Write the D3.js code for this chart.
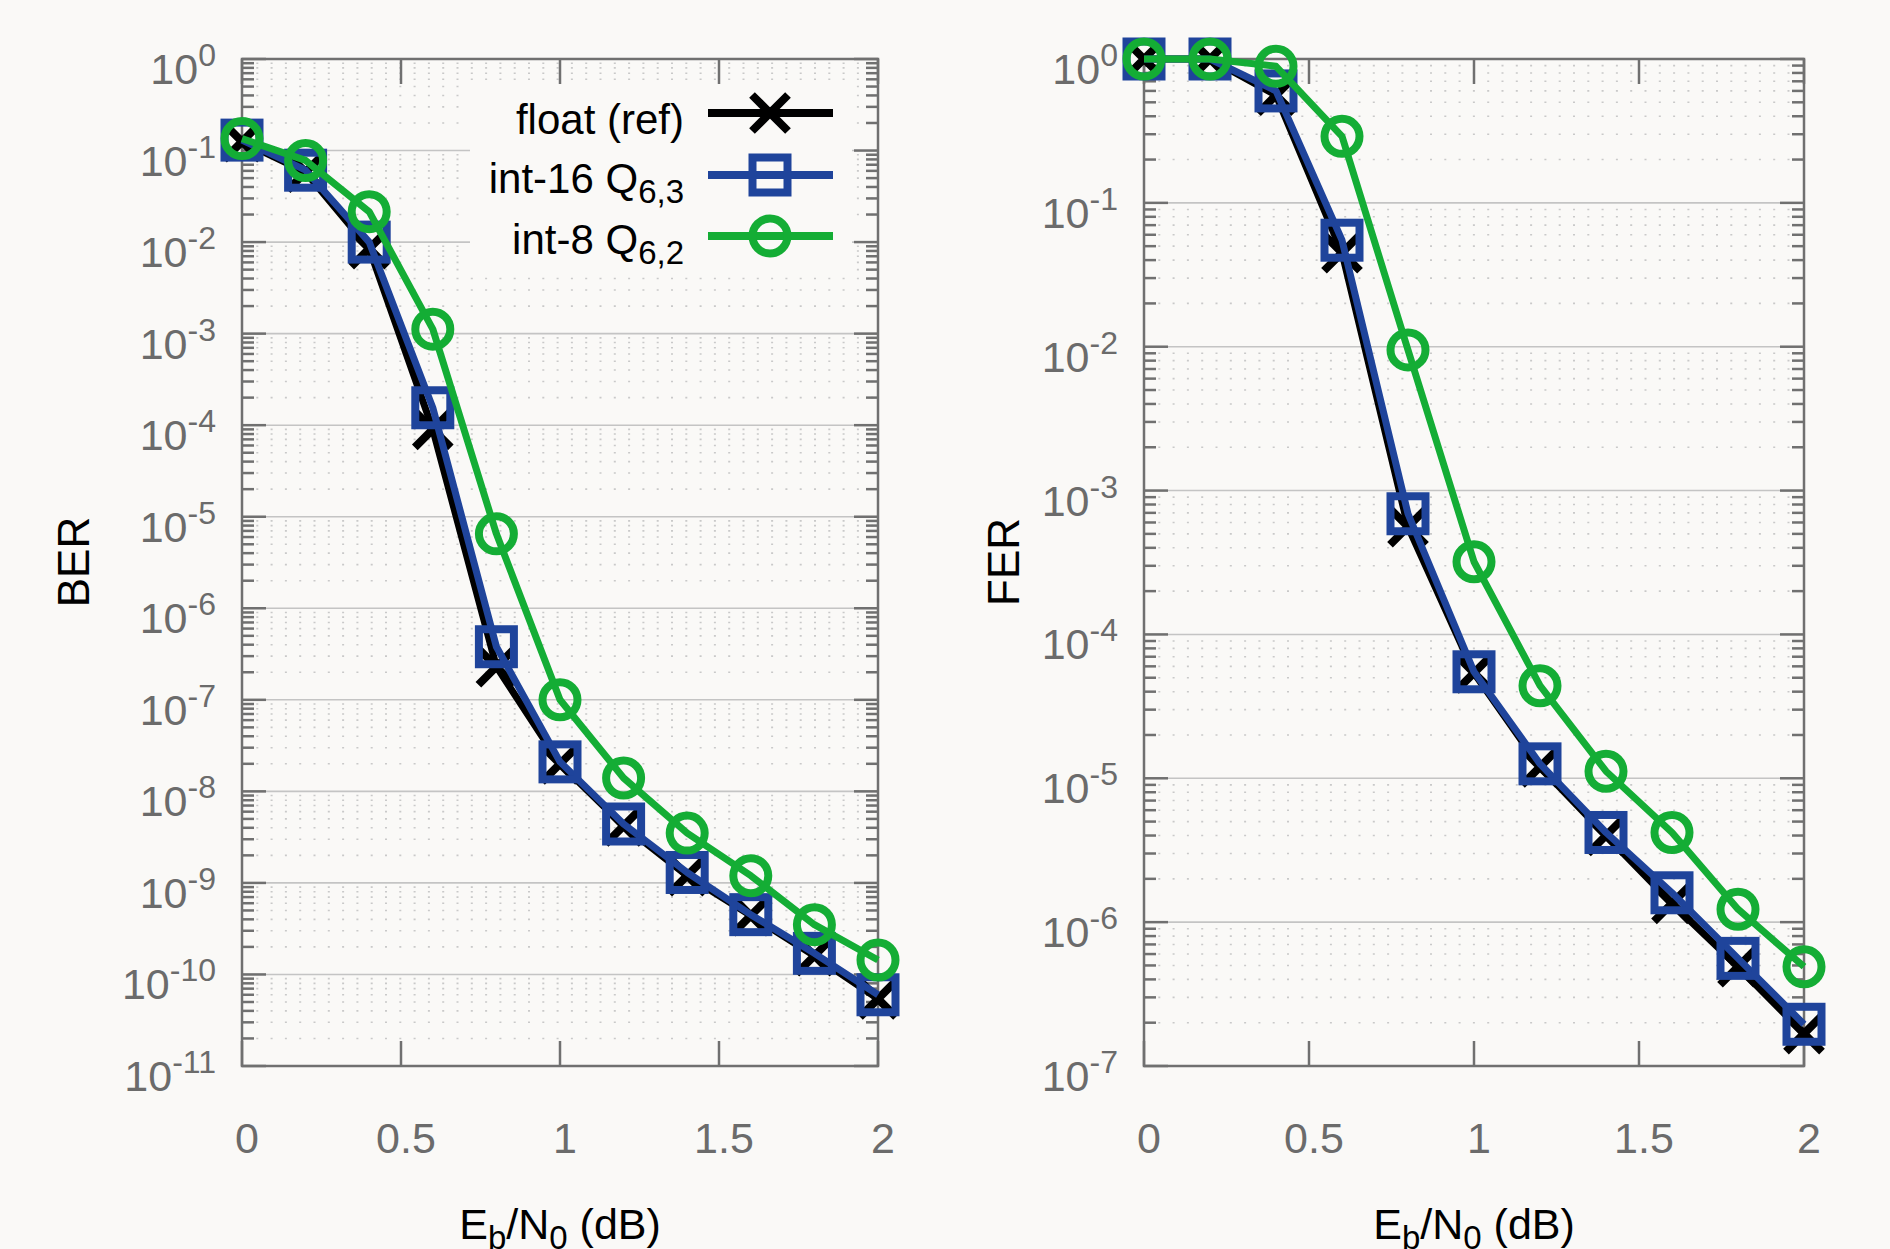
<!DOCTYPE html>
<html>
<head>
<meta charset="utf-8">
<script src="https://cdn.jsdelivr.net/npm/d3@7"></script>
<style>
  html, body { margin: 0; padding: 0; background: #faf9f7; }
  svg { display: block; }
</style>
</head>
<body>
<div id="chart"></div>
<script>
/* global d3 */

// Eb/N0 points (dB)
var ebn0 = [0, 0.2, 0.4, 0.6, 0.8, 1.0, 1.2, 1.4, 1.6, 1.8, 2.0];

// bit error rate
var berFloat = [0.125, 0.058, 8.5e-3, 9e-5, 2.3e-7, 2.0e-8, 4.2e-9, 1.2e-9, 4.4e-10, 1.6e-10, 5.4e-11];
var berInt16 = [0.13, 0.061, 1.0e-2, 1.55e-4, 3.8e-7, 2.1e-8, 4.4e-9, 1.3e-9, 4.5e-10, 1.7e-10, 6.0e-11];
var berInt8 = [0.135, 0.078, 0.0215, 1.12e-3, 6.5e-6, 1.0e-7, 1.4e-8, 3.5e-9, 1.2e-9, 3.5e-10, 1.44e-10];

// frame error rate
var ferFloat = [1, 1, 0.56, 0.045, 5.6e-4, 5.4e-5, 1.2e-5, 4.0e-6, 1.35e-6, 4.9e-7, 1.68e-7];
var ferInt16 = [1, 1, 0.6, 0.055, 6.9e-4, 5.5e-5, 1.26e-5, 4.2e-6, 1.6e-6, 5.6e-7, 1.95e-7];
var ferInt8 = [1, 1, 0.89, 0.29, 9.5e-3, 3.2e-4, 4.4e-5, 1.12e-5, 4.2e-6, 1.23e-6, 4.9e-7];

var xTicks = [0, 0.5, 1, 1.5, 2];
var berExps = [0, -1, -2, -3, -4, -5, -6, -7, -8, -9, -10, -11];
var ferExps = [0, -1, -2, -3, -4, -5, -6, -7];

var seriesNames = ['float (ref)', 'int-16 Q', 'int-8 Q'];
var seriesSubs = ['', '6,3', '6,2'];
var seriesColors = ['#000000', '#1f449b', '#14ad35'];
var seriesShapes = ['cross', 'square', 'circle'];

var BG = '#faf9f7';
var AXIS = '#707070';
var FONT = 'Liberation Sans, Arial, Helvetica, sans-serif';

var svg = d3.select('#chart')
  .append('svg')
	.attr('width', 1890)
	.attr('height', 1249);

svg.append('rect')
	.attr('width', 1890)
	.attr('height', 1249)
	.attr('fill', BG);


/**
 * Draws one marker of the given shape at (cx, cy)
 */
function drawMarker(g, shape, cx, cy, color) {

	if (shape === 'cross') {
		var d = 18;
		g.append('path')
		.attr('d', 'M' + (cx - d) + ',' + (cy - d) + 'L' + (cx + d) + ',' + (cy + d) +
			'M' + (cx - d) + ',' + (cy + d) + 'L' + (cx + d) + ',' + (cy - d))
		.attr('stroke', color)
		.attr('stroke-width', 8)
		.attr('fill', 'none');
	} else if (shape === 'square') {
		g.append('rect')
		.attr('x', cx - 17.5)
		.attr('y', cy - 17.5)
		.attr('width', 35)
		.attr('height', 35)
		.attr('stroke', color)
		.attr('stroke-width', 8)
		.attr('fill', 'none');
	} else {
		g.append('circle')
		.attr('cx', cx)
		.attr('cy', cy)
		.attr('r', 17.5)
		.attr('stroke', color)
		.attr('stroke-width', 8)
		.attr('fill', 'none');
	}
}


/**
 * Draws one log-scale panel
 */
function drawPanel(opts) {

	var x = d3.scaleLinear().domain([0, 2]).range([opts.left, opts.right]);
	var y = d3.scaleLog().domain([1, Math.pow(10, opts.exps[opts.exps.length - 1])]).range([59, 1066]);

	var g = svg.append('g');

	var x0 = opts.left, x1 = opts.right;

	// minor grid (dotted) and major grid (solid)
	opts.exps.forEach(function(e, i) {
		if (i === opts.exps.length - 1) return;
		for (var m = 2; m <= 9; m++) {
			var v = m * Math.pow(10, e - 1);
			g.append('line')
			.attr('x1', x0).attr('x2', x1)
			.attr('y1', y(v)).attr('y2', y(v))
			.attr('stroke', '#c9c9c9')
			.attr('stroke-width', 1.6)
			.attr('stroke-dasharray', '2,12.3');
		}
		if (i > 0) {
			g.append('line')
			.attr('x1', x0).attr('x2', x1)
			.attr('y1', y(Math.pow(10, e))).attr('y2', y(Math.pow(10, e)))
			.attr('stroke', '#c4c4c4')
			.attr('stroke-width', 1.6);
		}
	});

	// opaque legend box
	if (opts.legend) {
		g.append('rect')
		.attr('x', 470).attr('y', 83)
		.attr('width', 382).attr('height', 191)
		.attr('fill', BG);
	}

	// y ticks, both sides
	opts.exps.forEach(function(e, i) {
		var yy = y(Math.pow(10, e));
		g.append('line').attr('x1', x0).attr('x2', x0 + 24).attr('y1', yy).attr('y2', yy)
			.attr('stroke', AXIS).attr('stroke-width', 2.5);
		g.append('line').attr('x1', x1 - 24).attr('x2', x1).attr('y1', yy).attr('y2', yy)
			.attr('stroke', AXIS).attr('stroke-width', 2.5);

		var t = g.append('text')
			.attr('x', x0 - 26)
			.attr('y', yy + 25)
			.attr('font-family', FONT)
			.attr('font-size', 43)
			.attr('fill', '#6b6b6b')
			.style('text-anchor', 'end');
		t.append('tspan').text('10');
		t.append('tspan').attr('dy', -18).attr('font-size', 32).text(String(e));

		if (i === opts.exps.length - 1) return;
		for (var m = 2; m <= 9; m++) {
			var ym = y(m * Math.pow(10, e - 1));
			g.append('line').attr('x1', x0).attr('x2', x0 + 12).attr('y1', ym).attr('y2', ym)
				.attr('stroke', AXIS).attr('stroke-width', 2.5);
			g.append('line').attr('x1', x1 - 12).attr('x2', x1).attr('y1', ym).attr('y2', ym)
				.attr('stroke', AXIS).attr('stroke-width', 2.5);
		}
	});

	// x ticks, top and bottom
	xTicks.forEach(function(v) {
		g.append('line').attr('x1', x(v)).attr('x2', x(v)).attr('y1', 1066).attr('y2', 1041)
			.attr('stroke', AXIS).attr('stroke-width', 2.5);
		g.append('line').attr('x1', x(v)).attr('x2', x(v)).attr('y1', 59).attr('y2', 84)
			.attr('stroke', AXIS).attr('stroke-width', 2.5);

		g.append('text')
		.attr('x', x(v) + 5)
		.attr('y', 1153)
		.attr('font-family', FONT)
		.attr('font-size', 43)
		.attr('fill', '#6b6b6b')
		.style('text-anchor', 'middle')
		.text(String(v));
	});

	// frame
	g.append('rect')
	.attr('x', x0).attr('y', 59)
	.attr('width', x1 - x0).attr('height', 1066 - 59)
	.attr('fill', 'none')
	.attr('stroke', AXIS)
	.attr('stroke-width', 2.5);

	// axis titles
	var xt = g.append('text')
		.attr('x', (x0 + x1) / 2)
		.attr('y', 1239)
		.attr('font-family', FONT)
		.attr('font-size', 43)
		.attr('fill', '#000')
		.style('text-anchor', 'middle');
	xt.append('tspan').text('E');
	xt.append('tspan').attr('dy', 10).attr('font-size', 33).text('b');
	xt.append('tspan').attr('dy', -10).text('/N');
	xt.append('tspan').attr('dy', 10).attr('font-size', 33).text('0');
	xt.append('tspan').attr('dy', -10).text(' (dB)');

	g.append('text')
	.attr('transform', 'translate(' + opts.titleX + ',562) rotate(-90)')
	.attr('font-family', FONT)
	.attr('font-size', 44)
	.attr('fill', '#000')
	.style('text-anchor', 'middle')
	.text(opts.title);

	// series: line then markers
	var line = d3.line()
		.x(function(d) { return x(d[0]); })
		.y(function(d) { return y(d[1]); });

	opts.series.forEach(function(values, s) {
		var pts = ebn0.map(function(v, i) { return [v, values[i]]; });

		g.append('path')
		.attr('d', line(pts))
		.attr('fill', 'none')
		.attr('stroke', seriesColors[s])
		.attr('stroke-width', 7)
		.attr('stroke-linejoin', 'round');

		pts.forEach(function(p) {
			drawMarker(g, seriesShapes[s], x(p[0]), y(p[1]), seriesColors[s]);
		});
	});

	// legend
	if (opts.legend) {
		var rows = [113, 175, 236];
		seriesNames.forEach(function(name, s) {
			var ly = rows[s];

			var t = g.append('text')
				.attr('x', 684)
				.attr('y', ly + (s === 0 ? 21 : 18))
				.attr('font-family', FONT)
				.attr('font-size', 42)
				.attr('fill', '#000')
				.style('text-anchor', 'end');
			t.append('tspan').text(name);
			if (seriesSubs[s]) {
				t.append('tspan').attr('dy', 10).attr('font-size', 33).text(seriesSubs[s]);
			}

			g.append('line')
			.attr('x1', 708).attr('x2', 833)
			.attr('y1', ly).attr('y2', ly)
			.attr('stroke', seriesColors[s])
			.attr('stroke-width', 8);

			drawMarker(g, seriesShapes[s], 770, ly, seriesColors[s]);
		});
	}
}


drawPanel({
	left: 242,
	right: 878,
	exps: berExps,
	title: 'BER',
	titleX: 89,
	series: [berFloat, berInt16, berInt8],
	legend: true
});

drawPanel({
	left: 1144,
	right: 1804,
	exps: ferExps,
	title: 'FER',
	titleX: 1019,
	series: [ferFloat, ferInt16, ferInt8],
	legend: false
});
</script>
</body>
</html>
